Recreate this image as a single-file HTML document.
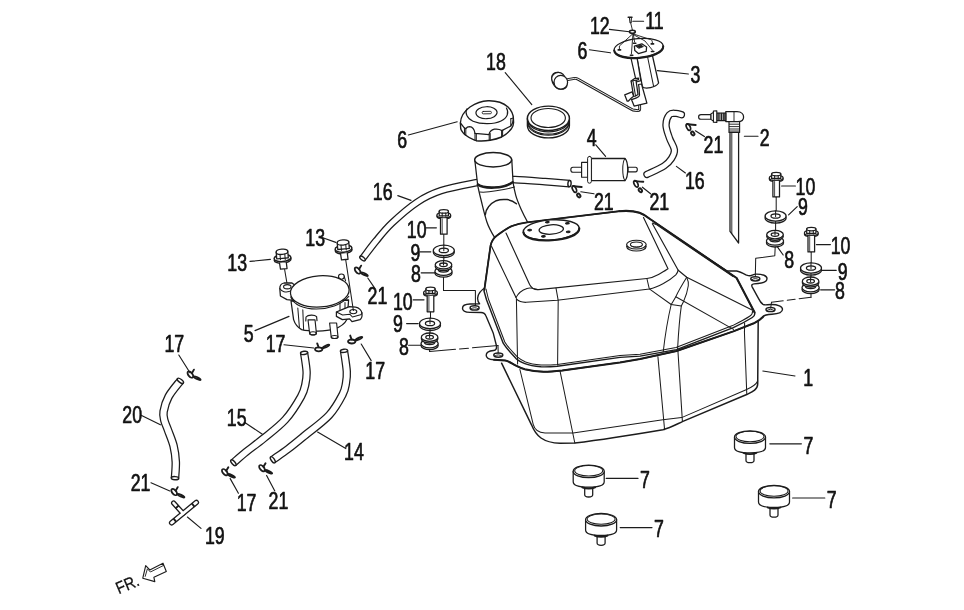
<!DOCTYPE html>
<html><head><meta charset="utf-8"><title>Fuel tank</title>
<style>
html,body{margin:0;padding:0;background:#fff;}
body{width:964px;height:610px;overflow:hidden;}
svg{display:block;will-change:transform;}
text{font-family:"Liberation Sans",sans-serif;fill:#111;stroke:#111;stroke-width:0.7px;stroke-linejoin:round;}
</style></head><body>
<svg width="964" height="610" viewBox="0 0 964 610" stroke-linejoin="round" stroke-linecap="round">
<rect width="964" height="610" fill="#fff"/>
<path d="M362.5 258.5 C364.8 255.6 371.1 246.9 376.0 241.0 C380.9 235.1 385.2 229.4 392.0 223.0 C398.8 216.6 408.8 207.7 417.0 202.3 C425.2 196.9 431.2 193.9 441.0 190.7 C450.8 187.4 467.2 184.5 476.0 182.8 C484.8 181.1 487.5 181.1 494.0 180.6 C500.5 180.1 506.5 179.4 515.0 179.6 C523.5 179.8 535.9 180.9 545.0 181.6 C554.1 182.3 565.4 183.3 569.5 183.6" fill="none" stroke="#1c1c1c" stroke-width="7.60" stroke-linecap="butt"/>
<path d="M362.5 258.5 C364.8 255.6 371.1 246.9 376.0 241.0 C380.9 235.1 385.2 229.4 392.0 223.0 C398.8 216.6 408.8 207.7 417.0 202.3 C425.2 196.9 431.2 193.9 441.0 190.7 C450.8 187.4 467.2 184.5 476.0 182.8 C484.8 181.1 487.5 181.1 494.0 180.6 C500.5 180.1 506.5 179.4 515.0 179.6 C523.5 179.8 535.9 180.9 545.0 181.6 C554.1 182.3 565.4 183.3 569.5 183.6" fill="none" stroke="#fff" stroke-width="5.10" stroke-linecap="butt"/>
<ellipse cx="362.5" cy="258.5" rx="1.6" ry="3.2" fill="#fff" stroke="#1c1c1c" stroke-width="1.44" transform="rotate(-52.4 362.5 258.5)"/>
<ellipse cx="569.5" cy="183.6" rx="1.6" ry="3.2" fill="#fff" stroke="#1c1c1c" stroke-width="1.44" transform="rotate(-175.3 569.5 183.6)"/>
<path d="M477.5 184.3 C479 192 480.6 198 482.2 204.6 C483.6 210.4 485 216 486.8 221.7 C488.6 227 491 231.6 494.6 237.4 L530 226 C529 224.6 528.2 223.2 527.4 221.7 C525 217.4 523 213.4 521.1 209.2 C519 204.6 517 200 515.7 195.2 C514.6 191 513.6 186.4 513 182 Z" fill="#fff" stroke="#1c1c1c" stroke-width="1.26" />
<path d="M485.3 214.7 C485.6 211.6 486.6 209 488.4 206.9 C490.4 204.4 493 202.2 496.2 200.7 C499.6 199.4 503.4 199.2 507.1 199.6 C510.6 200.2 513.8 201.6 516.4 203.8" fill="none" stroke="#1c1c1c" stroke-width="1.49" />
<path d="M479.8 192.1 C485 192.6 491 191.8 496.2 190.8 C502.4 189.8 508.6 188.8 514.6 187.0" fill="none" stroke="#1c1c1c" stroke-width="1.03" />
<path d="M474.8 160 L477.5 183.5 C484 188.6 504 188.2 513 181.2 L511.8 160 Z" fill="#fff" stroke="#1c1c1c" stroke-width="1.26" />
<path d="M477.6 184.4 C484 189.6 504 189.2 513 182.2" fill="none" stroke="#1c1c1c" stroke-width="1.90" />
<ellipse cx="493.2" cy="159.8" rx="18.5" ry="7.2" fill="#fff" stroke="#1c1c1c" stroke-width="1.49"/>
<path d="M486.0 288.0 L490.5 246.0 L497.0 235.5 L512.0 226.0 L527.0 222.4 L619.5 211.2 L639.5 212.8 L650.0 219.0 L737.0 277.5 L754.5 312.0 L758.7 320.0 L757.7 386.5 L746.1 394.8 L682.9 421.4 L662.9 429.7 L574.8 443.0 L556.5 443.0 L538.2 436.4 L531.5 424.8 L501.6 363.2 L496.0 346.0 L485.0 313.0Z" fill="#fff" stroke="none"/>
<path d="M501.6 363.2 L531.5 424.8 C534 431 536 434.5 541 438 C546 441.5 552 443 560 443.2 L574.8 443 C604 439.4 634 434.6 662.9 429.7 C670 428 676 424.6 682.9 421.4 L746.1 394.8 C752 392 757.5 390 757.7 384 L758.2 321" fill="none" stroke="#1c1c1c" stroke-width="1.49" />
<path d="M519.9 369.5 L533.2 424.4 C534.5 429.5 538 432.6 545 433 L573.1 433.1 L662.9 419.8 L681.6 417.6 L746.1 389.8 C751 387.6 756 385 757.7 381" fill="none" stroke="#1c1c1c" stroke-width="1.03" />
<path d="M559.8 369.9 L574.8 443" fill="none" stroke="#1c1c1c" stroke-width="1.03" />
<path d="M657.9 356.6 L664.6 429.7" fill="none" stroke="#1c1c1c" stroke-width="1.03" />
<path d="M677.9 350.5 L682.4 421.4" fill="none" stroke="#1c1c1c" stroke-width="1.03" />
<path d="M744.4 331.6 L746.8 394.6" fill="none" stroke="#1c1c1c" stroke-width="1.03" />
<path d="M487 286.5 C481 290 477.5 294 477.6 298.5 C477.7 301 478.6 303 479.6 303.8 L470 304 C464.5 304.2 462.5 306.2 462.5 308.2 C462.5 310.4 465 312.3 470 312.4 L481 312.5 C484 312.6 485 313.4 486 316 L493.3 333.3 L496.4 345.5 C496.8 348.6 496 350.3 493.6 350.5 C488.6 350.9 486.2 353 486.2 355.2 C486.2 357.6 489 359.6 494 359.8 L505 360.4 C508.5 360.8 512 363.6 516 365.6 C519 367.2 522 368.4 524.9 369.3 C531 370.8 537 371.6 543.6 371.8 C550 371.8 556 371.2 562.3 370.5 L620 362.4 L640 359.1 L676.5 351 L733.3 331.4 L753.8 323.3 C758.6 321 761.6 318.6 763.4 316.4 C764.4 314.8 766 314.5 772 314.2 C778.4 313.9 782.5 312 782.5 309.3 C782.5 306.4 778 304.4 771 304.5 C767 304.6 764.8 305.6 763 304.4 C761.4 303.2 760 301.6 758.6 298.6 L752 286.6 C751.4 285 752 284.2 754 283.9 L758 283.5 C763.6 283.1 767 281 767 278.6 C767 275.8 762.6 274 756 274.1 C753.6 274.2 752 275.4 750.6 275.7 C748.6 276 747.4 275.4 745.9 274.9 C742.6 273 739.6 271.4 736.6 271 L727.2 271 L654.9 223.7" fill="#fff" stroke="#1c1c1c" stroke-width="1.38" />
<ellipse cx="474.6" cy="307.9" rx="4.5" ry="2.1" fill="none" stroke="#1c1c1c" stroke-width="1.49"/>
<path d="M471.2 308.8 C473.1 307.3 476.1 307.3 478.0 308.8" fill="none" stroke="#1c1c1c" stroke-width="0.92" />
<ellipse cx="498.3" cy="355.1" rx="4.5" ry="2.1" fill="none" stroke="#1c1c1c" stroke-width="1.49"/>
<path d="M494.9 356.0 C496.8 354.5 499.8 354.5 501.7 356.0" fill="none" stroke="#1c1c1c" stroke-width="0.92" />
<ellipse cx="755.3" cy="278.8" rx="4.5" ry="2.1" fill="none" stroke="#1c1c1c" stroke-width="1.49"/>
<path d="M751.9 279.7 C753.8 278.2 756.8 278.2 758.7 279.7" fill="none" stroke="#1c1c1c" stroke-width="0.92" />
<ellipse cx="770.5" cy="309.5" rx="4.5" ry="2.1" fill="none" stroke="#1c1c1c" stroke-width="1.49"/>
<path d="M767.1 310.4 C769.0 308.9 772.0 308.9 773.9 310.4" fill="none" stroke="#1c1c1c" stroke-width="0.92" />
<path d="M484 291 L490.5 246 C491.5 240.5 494 237.6 497 235.5 C503 231 507 228 512 226 C517 224 522 223 527 222.4 L619.5 211.2 C628 210.4 634 211 639.5 212.8 C644 214.4 647 216.6 650 219 L736.6 278 L754.5 312.3 C755.4 314.6 754 316.4 752.3 317.5 C746 321.4 740 324.6 733.3 327.7 L676.5 349.6 L640 356.1 L620 357.4 L557.3 366.2 C551 366.8 546 367 541.1 366.8 C535 366.4 529 365.4 524.9 363.7 C521 362 518 360.4 516.2 358.7 C510 352 506 348 503.2 343.2 L486.6 300 Z" fill="#fff" stroke="#1c1c1c" stroke-width="1.44" />
<path d="M619.5 211.2 C628 210.4 634 211 639.5 212.8 C644 214.4 647 216.6 650 219 L736.6 278 L754.5 312.3" fill="none" stroke="#1c1c1c" stroke-width="2.10" />
<path d="M484.4 290 L490.5 246 C491.5 240.5 494 237.6 497 235.5 C503 231 507 228 512 226 C517 224 522 223 527 222.4 L619.5 211.2" fill="none" stroke="#1c1c1c" stroke-width="1.80" />
<path d="M652.6 223 L656 224.4 L733 276.6" fill="none" stroke="#1c1c1c" stroke-width="1.03" />
<path d="M752.6 311 C752.6 313.4 751.6 315 750 316 C745 319.4 739 322.4 732.6 325.6 L676 347.6 L640 354.2 L620 355.6 L557.3 364.4 C551 365 546 365.2 541.1 365 C535 364.6 529.6 363.6 525.6 362 C522 360.4 519.4 358.8 517.6 357.2 C512 351 507.6 347 504.8 342 L488.4 299 L486 289" fill="none" stroke="#1c1c1c" stroke-width="1.03" />
<path d="M494 359.8 L505 360.4 C508.5 360.8 512 363.6 516 365.6 C519 367.2 522 368.4 524.9 369.3 C531 370.8 537 371.6 543.6 371.8 C550 371.8 556 371.2 562.3 370.5 L620 362.4 L640 359.1 L676.5 351 L733.3 331.4 L753.8 323.3 C758.6 321 761.6 318.6 763.4 316.4" fill="none" stroke="#1c1c1c" stroke-width="2.00" />
<path d="M491.6 246.5 L516 297.6" fill="none" stroke="#1c1c1c" stroke-width="1.15" />
<path d="M516.4 298.6 L517.6 364" fill="none" stroke="#1c1c1c" stroke-width="1.03" />
<path d="M506 233 L529.6 284.4 C531.4 288 534 289.9 538.5 289.6 L646.9 278.5 C651 278 655 276.3 658.5 274.4 C662 272.4 665.4 270.6 668 268.7 L643.5 217.4" fill="none" stroke="#1c1c1c" stroke-width="1.15" />
<path d="M516 297.6 C518 293.4 522 290 527 288.4 C531 287.4 534 288.4 537.6 289.6" fill="none" stroke="#1c1c1c" stroke-width="1.03" />
<path d="M516.6 299.2 C519 301.6 522 302.4 526 302.3 L557.2 300.2 L649.4 289 C654 288 659 285.8 663.4 283.5 C669 280.4 674 276.6 675.8 274.9 C677 273.6 677.8 272 678.2 270.2 L652.4 223.7" fill="none" stroke="#1c1c1c" stroke-width="1.15" />
<path d="M556 288.2 L558.2 300.4 L557.6 365" fill="none" stroke="#1c1c1c" stroke-width="1.03" />
<path d="M646.9 278.5 L649.3 288.9 L671.2 304.5" fill="none" stroke="#1c1c1c" stroke-width="1.03" />
<path d="M678.2 270.2 L686.7 277.3 L752.1 310" fill="none" stroke="#1c1c1c" stroke-width="1.15" />
<path d="M686.7 277.3 C682 285 678 292 675.8 296.7 C674 300 672.4 302.4 671.2 304.5 C668 318 665 336 663.2 352" fill="none" stroke="#1c1c1c" stroke-width="1.03" />
<path d="M686.7 277.3 C688.4 281 688.8 283 688.3 285.8 C687.4 292 685.6 297 683.6 301.4 L681.3 306.1 C679.6 318 678.4 334 677.6 348.6" fill="none" stroke="#1c1c1c" stroke-width="1.03" />
<path d="M671.2 304.5 L681.3 306.1" fill="none" stroke="#1c1c1c" stroke-width="1.03" />
<path d="M675.8 296.7 L733.5 329.4" fill="none" stroke="#1c1c1c" stroke-width="1.03" />
<path d="M744.6 323 L744.5 331.5" fill="none" stroke="#1c1c1c" stroke-width="1.03" />
<g transform="rotate(-4 551.3 229.9)">
<ellipse cx="551.3" cy="229.9" rx="28.0" ry="10.0" fill="#fff" stroke="#1c1c1c" stroke-width="1.38"/>
<path d="M523.3 230.4 C524 243.6 578.6 243.6 579.3 230.4" fill="none" stroke="#1c1c1c" stroke-width="2.20" />
<ellipse cx="551.3" cy="229.5" rx="12.2" ry="4.7" fill="none" stroke="#1c1c1c" stroke-width="1.26"/>
</g>
<ellipse cx="529.6" cy="230.1" rx="1.9" ry="0.8" fill="#1c1c1c" stroke="#1c1c1c" stroke-width="1.03" transform="rotate(-4.0 529.6 230.1)"/>
<ellipse cx="547.3" cy="222.2" rx="1.9" ry="0.8" fill="#1c1c1c" stroke="#1c1c1c" stroke-width="1.03" transform="rotate(-4.0 547.3 222.2)"/>
<ellipse cx="567.4" cy="223.3" rx="1.9" ry="0.8" fill="#1c1c1c" stroke="#1c1c1c" stroke-width="1.03" transform="rotate(-4.0 567.4 223.3)"/>
<ellipse cx="568.2" cy="231.9" rx="1.9" ry="0.8" fill="#1c1c1c" stroke="#1c1c1c" stroke-width="1.03" transform="rotate(-4.0 568.2 231.9)"/>
<ellipse cx="543.4" cy="236.4" rx="1.9" ry="0.8" fill="#1c1c1c" stroke="#1c1c1c" stroke-width="1.03" transform="rotate(-4.0 543.4 236.4)"/>
<ellipse cx="636.4" cy="246.6" rx="9.8" ry="4.4" fill="#fff" stroke="#1c1c1c" stroke-width="1.15"/>
<ellipse cx="636.4" cy="244.6" rx="9.8" ry="4.4" fill="#fff" stroke="#1c1c1c" stroke-width="1.15"/>
<ellipse cx="636.4" cy="244.6" rx="6.0" ry="2.6" fill="none" stroke="#1c1c1c" stroke-width="1.03"/>
<path d="M630.6 245.4 C632 247.6 640.8 247.6 642.2 245.4" fill="none" stroke="#1c1c1c" stroke-width="0.92" />
<ellipse cx="443.8" cy="216.2" rx="6.9" ry="2.6" fill="#fff" stroke="#1c1c1c" stroke-width="1.26"/>
<ellipse cx="443.8" cy="215.2" rx="6.9" ry="2.6" fill="#fff" stroke="#1c1c1c" stroke-width="1.26"/>
<path d="M439.2 211.2 L439.2 215.8 L448.4 215.8 L448.4 211.2 Z" fill="#fff" stroke="#1c1c1c" stroke-width="1.26" />
<ellipse cx="443.8" cy="211.4" rx="4.6" ry="1.8" fill="#fff" stroke="#1c1c1c" stroke-width="1.26"/>
<line x1="442.2" y1="213.0" x2="442.2" y2="216.2" stroke="#1c1c1c" stroke-width="1.03" />
<line x1="445.8" y1="213.0" x2="445.8" y2="216.2" stroke="#1c1c1c" stroke-width="1.03" />
<path d="M440.5 218.2 L440.5 234.2 L447.1 234.2 L447.1 218.2" fill="#fff" stroke="#1c1c1c" stroke-width="1.26" />
<line x1="442.2" y1="218.8" x2="442.2" y2="233.8" stroke="#1c1c1c" stroke-width="0.80" />
<line x1="443.8" y1="234.4" x2="443.8" y2="246.5" stroke="#1c1c1c" stroke-width="1.03" />
<ellipse cx="443.8" cy="252.3" rx="10.5" ry="5.2" fill="#fff" stroke="#1c1c1c" stroke-width="1.26"/>
<ellipse cx="443.8" cy="250.4" rx="10.5" ry="5.2" fill="#fff" stroke="#1c1c1c" stroke-width="1.26"/>
<ellipse cx="443.8" cy="250.4" rx="4.6" ry="2.2" fill="#fff" stroke="#1c1c1c" stroke-width="1.26"/>
<line x1="443.8" y1="245.2" x2="443.8" y2="250.8" stroke="#1c1c1c" stroke-width="1.03" />
<line x1="443.8" y1="255.8" x2="443.8" y2="262.6" stroke="#1c1c1c" stroke-width="1.03" />
<ellipse cx="443.5" cy="273.0" rx="8.6" ry="4.2" fill="#fff" stroke="#1c1c1c" stroke-width="1.26"/>
<ellipse cx="443.5" cy="271.2" rx="8.6" ry="4.2" fill="#fff" stroke="#1c1c1c" stroke-width="1.26"/>
<ellipse cx="443.5" cy="269.8" rx="5.2" ry="2.3" fill="#fff" stroke="#1c1c1c" stroke-width="1.26"/>
<ellipse cx="443.5" cy="266.4" rx="8.3" ry="4.2" fill="#fff" stroke="#1c1c1c" stroke-width="1.26"/>
<ellipse cx="443.5" cy="264.8" rx="8.3" ry="4.2" fill="#fff" stroke="#1c1c1c" stroke-width="1.26"/>
<ellipse cx="443.5" cy="264.8" rx="3.8" ry="1.8" fill="#fff" stroke="#1c1c1c" stroke-width="1.26"/>
<line x1="443.5" y1="260.6" x2="443.5" y2="265.1" stroke="#1c1c1c" stroke-width="1.03" />
<path d="M443.5 277.2 L443.5 290.6 L475.4 290.6 L475.4 305.6" fill="none" stroke="#1c1c1c" stroke-width="1.03" />
<ellipse cx="430.5" cy="293.8" rx="6.9" ry="2.6" fill="#fff" stroke="#1c1c1c" stroke-width="1.26"/>
<ellipse cx="430.5" cy="292.8" rx="6.9" ry="2.6" fill="#fff" stroke="#1c1c1c" stroke-width="1.26"/>
<path d="M425.9 288.8 L425.9 293.4 L435.1 293.4 L435.1 288.8 Z" fill="#fff" stroke="#1c1c1c" stroke-width="1.26" />
<ellipse cx="430.5" cy="289.0" rx="4.6" ry="1.8" fill="#fff" stroke="#1c1c1c" stroke-width="1.26"/>
<line x1="428.9" y1="290.6" x2="428.9" y2="293.8" stroke="#1c1c1c" stroke-width="1.03" />
<line x1="432.5" y1="290.6" x2="432.5" y2="293.8" stroke="#1c1c1c" stroke-width="1.03" />
<path d="M427.2 295.8 L427.2 311.8 L433.8 311.8 L433.8 295.8" fill="#fff" stroke="#1c1c1c" stroke-width="1.26" />
<line x1="428.9" y1="296.4" x2="428.9" y2="311.4" stroke="#1c1c1c" stroke-width="0.80" />
<line x1="430.5" y1="312.0" x2="430.5" y2="319.6" stroke="#1c1c1c" stroke-width="1.03" />
<ellipse cx="430.0" cy="325.3" rx="10.5" ry="5.2" fill="#fff" stroke="#1c1c1c" stroke-width="1.26"/>
<ellipse cx="430.0" cy="323.4" rx="10.5" ry="5.2" fill="#fff" stroke="#1c1c1c" stroke-width="1.26"/>
<ellipse cx="430.0" cy="323.4" rx="4.6" ry="2.2" fill="#fff" stroke="#1c1c1c" stroke-width="1.26"/>
<line x1="430.0" y1="318.2" x2="430.0" y2="323.8" stroke="#1c1c1c" stroke-width="1.03" />
<line x1="430.0" y1="329.0" x2="430.0" y2="335.0" stroke="#1c1c1c" stroke-width="1.03" />
<ellipse cx="429.6" cy="345.4" rx="8.6" ry="4.2" fill="#fff" stroke="#1c1c1c" stroke-width="1.26"/>
<ellipse cx="429.6" cy="343.6" rx="8.6" ry="4.2" fill="#fff" stroke="#1c1c1c" stroke-width="1.26"/>
<ellipse cx="429.6" cy="342.2" rx="5.2" ry="2.3" fill="#fff" stroke="#1c1c1c" stroke-width="1.26"/>
<ellipse cx="429.6" cy="338.8" rx="8.3" ry="4.2" fill="#fff" stroke="#1c1c1c" stroke-width="1.26"/>
<ellipse cx="429.6" cy="337.2" rx="8.3" ry="4.2" fill="#fff" stroke="#1c1c1c" stroke-width="1.26"/>
<ellipse cx="429.6" cy="337.2" rx="3.8" ry="1.8" fill="#fff" stroke="#1c1c1c" stroke-width="1.26"/>
<line x1="429.6" y1="333.0" x2="429.6" y2="337.5" stroke="#1c1c1c" stroke-width="1.03" />
<path d="M429.6 349.6 L429.6 351.6" fill="none" stroke="#1c1c1c" stroke-width="1.03" />
<path d="M429.6 351.6 L498 345.6" fill="none" stroke="#1c1c1c" stroke-width="1.03" stroke-dasharray="26 4 9 4"/>
<path d="M498 345.6 L498.2 353" fill="none" stroke="#1c1c1c" stroke-width="1.03" />
<ellipse cx="776.2" cy="178.9" rx="6.9" ry="2.6" fill="#fff" stroke="#1c1c1c" stroke-width="1.26"/>
<ellipse cx="776.2" cy="177.9" rx="6.9" ry="2.6" fill="#fff" stroke="#1c1c1c" stroke-width="1.26"/>
<path d="M771.6 173.9 L771.6 178.5 L780.8 178.5 L780.8 173.9 Z" fill="#fff" stroke="#1c1c1c" stroke-width="1.26" />
<ellipse cx="776.2" cy="174.1" rx="4.6" ry="1.8" fill="#fff" stroke="#1c1c1c" stroke-width="1.26"/>
<line x1="774.6" y1="175.7" x2="774.6" y2="178.9" stroke="#1c1c1c" stroke-width="1.03" />
<line x1="778.2" y1="175.7" x2="778.2" y2="178.9" stroke="#1c1c1c" stroke-width="1.03" />
<path d="M772.9 180.9 L772.9 196.9 L779.5 196.9 L779.5 180.9" fill="#fff" stroke="#1c1c1c" stroke-width="1.26" />
<line x1="774.6" y1="181.5" x2="774.6" y2="196.5" stroke="#1c1c1c" stroke-width="0.80" />
<line x1="776.2" y1="197.2" x2="776.2" y2="212.4" stroke="#1c1c1c" stroke-width="1.03" />
<ellipse cx="775.6" cy="217.9" rx="10.5" ry="5.2" fill="#fff" stroke="#1c1c1c" stroke-width="1.26"/>
<ellipse cx="775.6" cy="216.0" rx="10.5" ry="5.2" fill="#fff" stroke="#1c1c1c" stroke-width="1.26"/>
<ellipse cx="775.6" cy="216.0" rx="4.6" ry="2.2" fill="#fff" stroke="#1c1c1c" stroke-width="1.26"/>
<line x1="775.6" y1="210.8" x2="775.6" y2="216.4" stroke="#1c1c1c" stroke-width="1.03" />
<line x1="775.6" y1="221.6" x2="775.6" y2="232.6" stroke="#1c1c1c" stroke-width="1.03" />
<ellipse cx="775.0" cy="242.8" rx="8.6" ry="4.2" fill="#fff" stroke="#1c1c1c" stroke-width="1.26"/>
<ellipse cx="775.0" cy="241.0" rx="8.6" ry="4.2" fill="#fff" stroke="#1c1c1c" stroke-width="1.26"/>
<ellipse cx="775.0" cy="239.6" rx="5.2" ry="2.3" fill="#fff" stroke="#1c1c1c" stroke-width="1.26"/>
<ellipse cx="775.0" cy="236.2" rx="8.3" ry="4.2" fill="#fff" stroke="#1c1c1c" stroke-width="1.26"/>
<ellipse cx="775.0" cy="234.6" rx="8.3" ry="4.2" fill="#fff" stroke="#1c1c1c" stroke-width="1.26"/>
<ellipse cx="775.0" cy="234.6" rx="3.8" ry="1.8" fill="#fff" stroke="#1c1c1c" stroke-width="1.26"/>
<line x1="775.0" y1="230.4" x2="775.0" y2="234.9" stroke="#1c1c1c" stroke-width="1.03" />
<path d="M775.2 247 L774.8 255.8 L755.7 258.2 L755.3 276.6" fill="none" stroke="#1c1c1c" stroke-width="1.03" />
<ellipse cx="811.3" cy="233.9" rx="6.9" ry="2.6" fill="#fff" stroke="#1c1c1c" stroke-width="1.26"/>
<ellipse cx="811.3" cy="232.9" rx="6.9" ry="2.6" fill="#fff" stroke="#1c1c1c" stroke-width="1.26"/>
<path d="M806.7 228.9 L806.7 233.5 L815.9 233.5 L815.9 228.9 Z" fill="#fff" stroke="#1c1c1c" stroke-width="1.26" />
<ellipse cx="811.3" cy="229.1" rx="4.6" ry="1.8" fill="#fff" stroke="#1c1c1c" stroke-width="1.26"/>
<line x1="809.7" y1="230.7" x2="809.7" y2="233.9" stroke="#1c1c1c" stroke-width="1.03" />
<line x1="813.3" y1="230.7" x2="813.3" y2="233.9" stroke="#1c1c1c" stroke-width="1.03" />
<path d="M808.0 235.9 L808.0 251.9 L814.6 251.9 L814.6 235.9" fill="#fff" stroke="#1c1c1c" stroke-width="1.26" />
<line x1="809.7" y1="236.5" x2="809.7" y2="251.5" stroke="#1c1c1c" stroke-width="0.80" />
<line x1="811.2" y1="252.2" x2="811.2" y2="264.4" stroke="#1c1c1c" stroke-width="1.03" />
<ellipse cx="811.0" cy="269.9" rx="10.5" ry="5.2" fill="#fff" stroke="#1c1c1c" stroke-width="1.26"/>
<ellipse cx="811.0" cy="268.0" rx="10.5" ry="5.2" fill="#fff" stroke="#1c1c1c" stroke-width="1.26"/>
<ellipse cx="811.0" cy="268.0" rx="4.6" ry="2.2" fill="#fff" stroke="#1c1c1c" stroke-width="1.26"/>
<line x1="811.0" y1="262.8" x2="811.0" y2="268.4" stroke="#1c1c1c" stroke-width="1.03" />
<line x1="811.0" y1="273.4" x2="811.0" y2="279.4" stroke="#1c1c1c" stroke-width="1.03" />
<ellipse cx="810.6" cy="289.4" rx="8.6" ry="4.2" fill="#fff" stroke="#1c1c1c" stroke-width="1.26"/>
<ellipse cx="810.6" cy="287.6" rx="8.6" ry="4.2" fill="#fff" stroke="#1c1c1c" stroke-width="1.26"/>
<ellipse cx="810.6" cy="286.2" rx="5.2" ry="2.3" fill="#fff" stroke="#1c1c1c" stroke-width="1.26"/>
<ellipse cx="810.6" cy="282.8" rx="8.3" ry="4.2" fill="#fff" stroke="#1c1c1c" stroke-width="1.26"/>
<ellipse cx="810.6" cy="281.2" rx="8.3" ry="4.2" fill="#fff" stroke="#1c1c1c" stroke-width="1.26"/>
<ellipse cx="810.6" cy="281.2" rx="3.8" ry="1.8" fill="#fff" stroke="#1c1c1c" stroke-width="1.26"/>
<line x1="810.6" y1="277.0" x2="810.6" y2="281.5" stroke="#1c1c1c" stroke-width="1.03" />
<path d="M811 293.6 L811 297.2" fill="none" stroke="#1c1c1c" stroke-width="1.03" />
<path d="M811 297.2 L771.5 302.2" fill="none" stroke="#1c1c1c" stroke-width="1.03" stroke-dasharray="12 4 8 4"/>
<path d="M771.5 302.2 L770.7 308" fill="none" stroke="#1c1c1c" stroke-width="1.03" />
<path d="M584.7 486.4 L584.7 494.8 C584.7 496.6 586.3 497.0 588.7 497.0 C591.1 497.0 592.7 496.6 592.7 494.8 L592.7 486.4" fill="#fff" stroke="#1c1c1c" stroke-width="1.26" />
<path d="M573.2 471.4 L573.2 481.8 C573.2 485.4 579.7 487.2 588.7 487.2 C597.7 487.2 604.2 485.4 604.2 481.8 L604.2 471.4 Z" fill="#fff" stroke="#1c1c1c" stroke-width="1.26" />
<path d="M582.3 487.3 C585.7 488.8 591.7 488.8 595.1 487.3" fill="none" stroke="#1c1c1c" stroke-width="1.90" />
<ellipse cx="588.7" cy="471.4" rx="15.5" ry="6.3" fill="#fff" stroke="#1c1c1c" stroke-width="1.26"/>
<ellipse cx="588.7" cy="470.8" rx="14.0" ry="5.2" fill="none" stroke="#1c1c1c" stroke-width="1.03"/>
<path d="M597.1 534.7 L597.1 543.1 C597.1 544.9 598.7 545.3 601.1 545.3 C603.5 545.3 605.1 544.9 605.1 543.1 L605.1 534.7" fill="#fff" stroke="#1c1c1c" stroke-width="1.26" />
<path d="M585.6 519.7 L585.6 530.1 C585.6 533.7 592.1 535.5 601.1 535.5 C610.1 535.5 616.6 533.7 616.6 530.1 L616.6 519.7 Z" fill="#fff" stroke="#1c1c1c" stroke-width="1.26" />
<path d="M594.7 535.6 C598.1 537.1 604.1 537.1 607.5 535.6" fill="none" stroke="#1c1c1c" stroke-width="1.90" />
<ellipse cx="601.1" cy="519.7" rx="15.5" ry="6.3" fill="#fff" stroke="#1c1c1c" stroke-width="1.26"/>
<ellipse cx="601.1" cy="519.1" rx="14.0" ry="5.2" fill="none" stroke="#1c1c1c" stroke-width="1.03"/>
<path d="M746.0 452.1 L746.0 460.5 C746.0 462.3 747.6 462.7 750.0 462.7 C752.4 462.7 754.0 462.3 754.0 460.5 L754.0 452.1" fill="#fff" stroke="#1c1c1c" stroke-width="1.26" />
<path d="M734.5 437.1 L734.5 447.5 C734.5 451.1 741.0 452.9 750.0 452.9 C759.0 452.9 765.5 451.1 765.5 447.5 L765.5 437.1 Z" fill="#fff" stroke="#1c1c1c" stroke-width="1.26" />
<path d="M743.6 453.0 C747.0 454.5 753.0 454.5 756.4 453.0" fill="none" stroke="#1c1c1c" stroke-width="1.90" />
<ellipse cx="750.0" cy="437.1" rx="15.5" ry="6.3" fill="#fff" stroke="#1c1c1c" stroke-width="1.26"/>
<ellipse cx="750.0" cy="436.5" rx="14.0" ry="5.2" fill="none" stroke="#1c1c1c" stroke-width="1.03"/>
<path d="M770.0 506.6 L770.0 515.0 C770.0 516.8 771.6 517.2 774.0 517.2 C776.4 517.2 778.0 516.8 778.0 515.0 L778.0 506.6" fill="#fff" stroke="#1c1c1c" stroke-width="1.26" />
<path d="M758.5 491.6 L758.5 502.0 C758.5 505.6 765.0 507.4 774.0 507.4 C783.0 507.4 789.5 505.6 789.5 502.0 L789.5 491.6 Z" fill="#fff" stroke="#1c1c1c" stroke-width="1.26" />
<path d="M767.6 507.5 C771.0 509.0 777.0 509.0 780.4 507.5" fill="none" stroke="#1c1c1c" stroke-width="1.90" />
<ellipse cx="774.0" cy="491.6" rx="15.5" ry="6.3" fill="#fff" stroke="#1c1c1c" stroke-width="1.26"/>
<ellipse cx="774.0" cy="491.0" rx="14.0" ry="5.2" fill="none" stroke="#1c1c1c" stroke-width="1.03"/>
<path d="M730 131.5 L730 231.4 L738.6 243 L738.6 131.5 Z" fill="#fff" stroke="#1c1c1c" stroke-width="1.26" />
<line x1="731.8" y1="132.0" x2="731.8" y2="233.6" stroke="#1c1c1c" stroke-width="0.92" />
<path d="M729 121.4 L729 132.4 L739.6 132.4 L739.6 121.4 Z" fill="#fff" stroke="#1c1c1c" stroke-width="1.15" />
<line x1="729.4" y1="124.2" x2="739.2" y2="124.2" stroke="#1c1c1c" stroke-width="0.92" />
<line x1="729.4" y1="126.6" x2="739.2" y2="126.6" stroke="#1c1c1c" stroke-width="0.92" />
<line x1="729.4" y1="129.0" x2="739.2" y2="129.0" stroke="#1c1c1c" stroke-width="0.92" />
<line x1="729.4" y1="131.0" x2="739.2" y2="131.0" stroke="#1c1c1c" stroke-width="0.92" />
<path d="M725.8 111.7 L737 111.7 C741.6 111.7 743.6 114.4 743.6 117 C743.6 119.8 741.4 121.6 738 121.6 L725.8 121.6 Z" fill="#fff" stroke="#1c1c1c" stroke-width="1.26" />
<line x1="734.0" y1="111.9" x2="734.0" y2="121.4" stroke="#1c1c1c" stroke-width="0.92" />
<path d="M716.8 113 L725.8 113 L725.8 120.6 L716.8 120.6 Z" fill="#fff" stroke="#1c1c1c" stroke-width="1.15" />
<line x1="718.2" y1="113.2" x2="718.2" y2="120.4" stroke="#1c1c1c" stroke-width="1.15" />
<line x1="719.9" y1="113.2" x2="719.9" y2="120.4" stroke="#1c1c1c" stroke-width="1.15" />
<line x1="721.6" y1="113.2" x2="721.6" y2="120.4" stroke="#1c1c1c" stroke-width="1.15" />
<line x1="723.3" y1="113.2" x2="723.3" y2="120.4" stroke="#1c1c1c" stroke-width="1.15" />
<line x1="724.8" y1="113.2" x2="724.8" y2="120.4" stroke="#1c1c1c" stroke-width="1.15" />
<path d="M713.4 111 L716.8 110.8 L716.8 122.4 L713.4 122.2 Z" fill="#fff" stroke="#1c1c1c" stroke-width="1.15" />
<path d="M710.8 114 L713.4 112.4 L713.4 121 L710.8 119.4 Z" fill="#fff" stroke="#1c1c1c" stroke-width="1.03" />
<path d="M710.8 114.6 L701 114.6 C699.2 114.6 698.6 115.6 698.6 116.9 C698.6 118.2 699.2 119.2 701 119.2 L710.8 119.2 Z" fill="#fff" stroke="#1c1c1c" stroke-width="1.15" />
<path d="M681.4 114.7 C680.5 114.5 678.0 113.4 676.0 113.4 C674.0 113.4 671.2 112.7 669.5 114.6 C667.8 116.5 666.0 121.0 666.0 124.9 C666.0 128.8 668.1 134.0 669.5 138.2 C670.9 142.3 674.1 146.4 674.4 149.8 C674.7 153.2 673.2 155.8 671.5 158.5 C669.8 161.2 668.1 163.3 664.0 166.0 C659.9 168.7 649.8 173.0 647.0 174.4" fill="none" stroke="#1c1c1c" stroke-width="7.40" stroke-linecap="round"/>
<path d="M681.4 114.7 C680.5 114.5 678.0 113.4 676.0 113.4 C674.0 113.4 671.2 112.7 669.5 114.6 C667.8 116.5 666.0 121.0 666.0 124.9 C666.0 128.8 668.1 134.0 669.5 138.2 C670.9 142.3 674.1 146.4 674.4 149.8 C674.7 153.2 673.2 155.8 671.5 158.5 C669.8 161.2 668.1 163.3 664.0 166.0 C659.9 168.7 649.8 173.0 647.0 174.4" fill="none" stroke="#fff" stroke-width="4.90" stroke-linecap="round"/>
<path d="M581.6 167.2 L573 167.2 C571.4 167.2 570.8 168.4 570.8 169.7 C570.8 171 571.4 172.2 573 172.2 L581.6 172.2 Z" fill="#fff" stroke="#1c1c1c" stroke-width="1.15" />
<path d="M581.6 162.4 L588.2 162.4 L588.2 177.2 L581.6 177.2 Z" fill="#fff" stroke="#1c1c1c" stroke-width="1.15" />
<path d="M628 167.2 L635.6 167.2 C636.8 167.2 637.3 168.3 637.3 169.5 C637.3 170.7 636.8 171.8 635.6 171.8 L628 171.8 Z" fill="#fff" stroke="#1c1c1c" stroke-width="1.15" />
<path d="M591.4 158.5 L625 158.5 C628.6 162 628.6 177 625 180.6 L591.4 180.6 Z" fill="#fff" stroke="#1c1c1c" stroke-width="1.26" />
<path d="M625 158.5 C622 162 622 177 625 180.6" fill="none" stroke="#1c1c1c" stroke-width="1.03" />
<rect x="587.6" y="156.4" width="3.8" height="26.8" rx="1.9" fill="#fff" stroke="#1c1c1c" stroke-width="1.0"/>
<path d="M460.4 123 C460.6 117 464 111.4 470 107 C476 103 482 101 488 100.8 C495 100.6 503 102.6 508 107 C511.6 110.4 513.4 114.6 513.4 119 L513.6 122.4 C513.4 125.6 512.6 127.4 511.4 128.8 C509 131.8 506 134.4 502.5 136.5 L501.6 137 C498 138.6 494 139.6 490.1 140.2 C486 140.9 480 141.1 476.3 140.7 L474 139.8 C471 138.6 468 137 465.8 135.2 L464.9 134.7 C462.6 132.4 461 130.6 460.7 128.7 Z" fill="#fff" stroke="#1c1c1c" stroke-width="1.38" />
<path d="M460.4 123 L463.9 127.4 L465.8 128.7 C466.6 127.4 468 126.6 469.6 126.6 C472.4 126.8 474.4 129.6 475 133.3 L488.9 134.6 C489.6 131.6 491.6 129.8 494.4 129.2 C497.4 128.8 500 129.4 501.8 130.6 L510.8 126 C512.4 124 513.2 121.6 513.4 119" fill="none" stroke="#1c1c1c" stroke-width="1.26" />
<line x1="464.4" y1="127.8" x2="464.6" y2="134.4" stroke="#1c1c1c" stroke-width="1.03" />
<line x1="465.8" y1="128.7" x2="465.8" y2="135.2" stroke="#1c1c1c" stroke-width="1.03" />
<line x1="475.0" y1="133.3" x2="475.0" y2="140.2" stroke="#1c1c1c" stroke-width="1.03" />
<line x1="476.3" y1="133.5" x2="476.3" y2="140.7" stroke="#1c1c1c" stroke-width="1.03" />
<line x1="489.2" y1="134.4" x2="489.2" y2="140.2" stroke="#1c1c1c" stroke-width="1.03" />
<line x1="490.2" y1="133.4" x2="490.2" y2="140.2" stroke="#1c1c1c" stroke-width="1.03" />
<line x1="501.6" y1="130.6" x2="501.6" y2="137.0" stroke="#1c1c1c" stroke-width="1.03" />
<line x1="502.6" y1="130.2" x2="502.6" y2="136.5" stroke="#1c1c1c" stroke-width="1.03" />
<line x1="510.8" y1="118.8" x2="510.8" y2="126.0" stroke="#1c1c1c" stroke-width="1.03" />
<path d="M510.8 118.8 L513.2 118" fill="none" stroke="#1c1c1c" stroke-width="1.03" />
<path d="M467 108.8 C464.6 113 467 118.6 473 121.2 C481 124.6 494 124.4 501 121 C507.6 117.8 509.2 112.4 506.4 108" fill="none" stroke="#1c1c1c" stroke-width="1.15" />
<ellipse cx="486.5" cy="112.7" rx="10.6" ry="6.0" fill="none" stroke="#1c1c1c" stroke-width="1.15" transform="rotate(-2.0 486.5 112.7)"/>
<rect x="482.2" y="111.4" width="9.2" height="2.4" rx="1.1" fill="none" stroke="#1c1c1c" stroke-width="0.9" transform="rotate(-1 486.8 112.6)"/>
<path d="M527.4 118.3 L527.4 125.7 A21 12.2 0 0 0 569.4 125.7 L569.4 118.3 Z" fill="#fff" stroke="#1c1c1c" stroke-width="1.38" />
<path d="M527.4 119.6 A21.0 12.2 0 0 0 569.4 119.6" fill="none" stroke="#1c1c1c" stroke-width="1.15" />
<path d="M528.2 122.4 A20.2 11.8 0 0 0 568.6 122.4" fill="none" stroke="#1c1c1c" stroke-width="1.15" />
<path d="M528.0 123.4 A20.4 11.9 0 0 0 568.8 123.4" fill="none" stroke="#1c1c1c" stroke-width="1.03" />
<ellipse cx="548.4" cy="118.3" rx="21.0" ry="12.2" fill="#fff" stroke="#1c1c1c" stroke-width="1.44"/>
<ellipse cx="548.2" cy="118.0" rx="17.2" ry="9.5" fill="none" stroke="#1c1c1c" stroke-width="1.15"/>
<path d="M567.6 79.6 L574.6 78.4 C576 78.2 577 78.6 578 79.2 L631.4 109.2 C632.6 109.9 633.6 110.2 634.8 110.3 L637.8 110.6 C639 110.6 639.7 110 639.7 108.8 L639.6 105" fill="none" stroke="#1c1c1c" stroke-width="2.9"/>
<path d="M567.6 79.6 L574.6 78.4 C576 78.2 577 78.6 578 79.2 L631.4 109.2 C632.6 109.9 633.6 110.2 634.8 110.3 L637.8 110.6 C639 110.6 639.7 110 639.7 108.8 L639.6 105" fill="none" stroke="#fff" stroke-width="0.9"/>
<path d="M551.6 78.2 C551.4 74 554.4 72.4 558 72.4 L561.6 74 L567 84 C567.4 88 564 89.2 560.4 89.2 C556 89.2 552 84 551.6 78.2 Z" fill="#fff" stroke="#1c1c1c" stroke-width="1.26" />
<ellipse cx="558.3" cy="78.6" rx="6.6" ry="6.2" fill="#fff" stroke="#1c1c1c" stroke-width="1.15"/>
<ellipse cx="560.8" cy="82.2" rx="6.8" ry="6.9" fill="#fff" stroke="#1c1c1c" stroke-width="1.26"/>
<path d="M636.7 56 L642.4 86.6 C645 89.6 656 87.4 658.6 83 L652.3 55 Z" fill="#fff" stroke="#1c1c1c" stroke-width="1.26" />
<line x1="647.6" y1="57.0" x2="653.6" y2="86.4" stroke="#1c1c1c" stroke-width="1.03" />
<path d="M630.5 56 L636.4 82 L640.8 80.6 L636.7 56 Z" fill="#fff" stroke="#1c1c1c" stroke-width="1.15" />
<path d="M638.5 84.5 L641.5 84 L646.9 103.2 L634.1 106.1 L631.6 99.7 L636.5 97.8 C638.4 97.2 639.4 96.4 639.5 95.3 L639 87.4 Z" fill="#fff" stroke="#1c1c1c" stroke-width="1.26" />
<path d="M631.1 81.1 L634.6 78.6 L638.5 78.1 L638.5 79.7 L636 80.3 L638 94.4 L635.6 96 L633.6 96.3 Z" fill="#fff" stroke="#1c1c1c" stroke-width="1.26" />
<path d="M633 81.4 L635.5 95.8 M631.1 81.1 L634.2 80.6 L636 80.3" fill="none" stroke="#1c1c1c" stroke-width="1.03" />
<path d="M624.7 94.8 L632.1 91.9 L633.6 96.3 L631.1 98.3 L628.2 101.2 L627.2 101.2 Z" fill="#fff" stroke="#1c1c1c" stroke-width="1.26" />
<g transform="rotate(-5 638.7 48.2)">
<ellipse cx="638.7" cy="48.0" rx="24.6" ry="9.3" fill="#fff" stroke="#1c1c1c" stroke-width="1.26"/>
<path d="M614.1 48.4 C614.6 61.2 662.8 61.2 663.3 48.4" fill="none" stroke="#1c1c1c" stroke-width="2.10" />
</g>
<path d="M634.4 46.2 L641.8 43.8 L646.6 47 L646.2 51.4 L638.4 53.6 L634.8 50.6 Z" fill="#fff" stroke="#1c1c1c" stroke-width="1.26" />
<path d="M636.6 46.4 L640.6 45 L643.4 46.6 L639.2 48.2 Z" fill="#1c1c1c" stroke="#1c1c1c" stroke-width="0.92" />
<line x1="618.2" y1="49.9" x2="620.6" y2="49.9" stroke="#1c1c1c" stroke-width="1.61" />
<line x1="630.4" y1="55.3" x2="632.8" y2="55.3" stroke="#1c1c1c" stroke-width="1.61" />
<line x1="633.4" y1="43.3" x2="635.8" y2="43.3" stroke="#1c1c1c" stroke-width="1.61" />
<line x1="651.2" y1="43.9" x2="653.6" y2="43.9" stroke="#1c1c1c" stroke-width="1.61" />
<line x1="651.4" y1="51.5" x2="653.8" y2="51.5" stroke="#1c1c1c" stroke-width="1.61" />
<path d="M633 33.6 L619.4 46 L619.4 49" fill="none" stroke="#1c1c1c" stroke-width="0.92" />
<path d="M633 33.6 L631.4 54" fill="none" stroke="#1c1c1c" stroke-width="0.92" />
<path d="M633.2 33.6 L634.6 42" fill="none" stroke="#1c1c1c" stroke-width="0.92" />
<path d="M633.4 34 L650.6 39.6 C652 40 652.4 41 652.4 43" fill="none" stroke="#1c1c1c" stroke-width="0.92" />
<path d="M633.4 34.6 L645 41 L652.6 50.4" fill="none" stroke="#1c1c1c" stroke-width="0.92" />
<ellipse cx="632.4" cy="31.8" rx="2.9" ry="1.6" fill="none" stroke="#1c1c1c" stroke-width="1.60"/>
<line x1="630.6" y1="22.6" x2="632.4" y2="30.0" stroke="#1c1c1c" stroke-width="0.92" />
<path d="M629.4 17.4 L631.4 17.4 L631.2 22.8 L630 22.8 Z" fill="#fff" stroke="#1c1c1c" stroke-width="1.03" />
<line x1="628.2" y1="17.2" x2="632.0" y2="17.2" stroke="#1c1c1c" stroke-width="1.50" />
<line x1="284.6" y1="269.4" x2="287.3" y2="285.2" stroke="#1c1c1c" stroke-width="1.03" />
<path d="M279.8 288.6 L280.4 296 L287 299.6 L293.6 300.4 L296 286 L292 283 L284 283 C281.4 283.4 279.8 285.6 279.8 288.6 Z" fill="#fff" stroke="#1c1c1c" stroke-width="1.26" />
<path d="M279.8 288.6 C281.6 291.8 286 292.6 289 291.6 L294 289" fill="none" stroke="#1c1c1c" stroke-width="1.03" />
<ellipse cx="287.3" cy="286.8" rx="3.7" ry="2.1" fill="none" stroke="#1c1c1c" stroke-width="1.15"/>
<path d="M291 301 L293.6 319.6 C295 324 298 327.6 301.6 329.6 C310 331.6 326 331.6 334 329.2 C340 327.2 345 323.4 347.2 319 L348.6 300 Z" fill="#fff" stroke="#1c1c1c" stroke-width="1.26" />
<path d="M297.8 308 L299.4 327.4 M302.8 309.8 L303.6 329.8" fill="none" stroke="#1c1c1c" stroke-width="1.03" />
<path d="M336.4 312 L336.4 316.4 L342.4 319.6 L349.6 318.8 L352 321.6 L360 319.6 C361.6 318.6 362.2 316 362 313.6 C361.8 310.4 359 307.6 355.6 307.2 L349.4 306.6 L342 309.6 Z" fill="#fff" stroke="#1c1c1c" stroke-width="1.26" />
<path d="M336.4 312 L342.6 315 L349.8 314.2 L352.4 317 L360.6 314.8 C361.6 314.2 362 313.4 362 312.4" fill="none" stroke="#1c1c1c" stroke-width="1.03" />
<ellipse cx="353.3" cy="311.6" rx="3.5" ry="2.1" fill="none" stroke="#1c1c1c" stroke-width="1.15"/>
<path d="M340 309.8 L340 303 M345 308 L345 302.6" fill="none" stroke="#1c1c1c" stroke-width="1.03" />
<path d="M308 319.8 L309.6 333.2 C310 335.4 316 335.4 316.4 333.2 L315 319.8 Z" fill="#fff" stroke="#1c1c1c" stroke-width="1.15" />
<ellipse cx="313.0" cy="333.4" rx="3.4" ry="1.6" fill="none" stroke="#1c1c1c" stroke-width="1.03"/>
<path d="M305.8 321 L306 317 C308 314.6 314.6 314.6 316.6 316.6 L317 320.6" fill="none" stroke="#1c1c1c" stroke-width="1.15" />
<path d="M329.6 323 L331.2 336.8 C331.6 339 337.6 339 338 336.8 L336.6 323 Z" fill="#fff" stroke="#1c1c1c" stroke-width="1.15" />
<ellipse cx="334.6" cy="337.0" rx="3.4" ry="1.6" fill="none" stroke="#1c1c1c" stroke-width="1.03"/>
<ellipse cx="341.4" cy="276.6" rx="2.9" ry="2.6" fill="#fff" stroke="#1c1c1c" stroke-width="1.15"/>
<path d="M338.6 277.4 L339.6 281.6 M344.3 276.6 L345.6 281" fill="none" stroke="#1c1c1c" stroke-width="1.03" />
<ellipse cx="319.8" cy="291.4" rx="29.4" ry="15.6" fill="#fff" stroke="#1c1c1c" stroke-width="1.26" transform="rotate(-4.0 319.8 291.4)"/>
<path d="M290.8 297 C296 312.6 334 313.6 348.8 296.4" fill="none" stroke="#1c1c1c" stroke-width="1.03" />
<line x1="345.6" y1="259.2" x2="353.4" y2="310.6" stroke="#1c1c1c" stroke-width="1.03" />
<g transform="rotate(-5 282.6 259.0)">
<ellipse cx="282.6" cy="259.6" rx="8.4" ry="3.6" fill="#fff" stroke="#1c1c1c" stroke-width="1.49"/>
<ellipse cx="282.6" cy="258.0" rx="8.4" ry="3.6" fill="#fff" stroke="#1c1c1c" stroke-width="1.49"/>
<path d="M276.8 251.4 L276.8 258.4 L288.4 258.4 L288.4 251.4 Z" fill="#fff" stroke="#1c1c1c" stroke-width="1.26" />
<ellipse cx="282.6" cy="251.8" rx="5.8" ry="2.6" fill="#fff" stroke="#1c1c1c" stroke-width="1.26"/>
<line x1="280.4" y1="254.2" x2="280.4" y2="259.6" stroke="#1c1c1c" stroke-width="1.03" />
<line x1="285.2" y1="254.2" x2="285.2" y2="259.6" stroke="#1c1c1c" stroke-width="1.03" />
<path d="M279.2 262.8 L279.6 269.0 L286.2 269.0 L286.0 262.8" fill="#fff" stroke="#1c1c1c" stroke-width="1.26" />
</g>
<g transform="rotate(-5 343.6 249.6)">
<ellipse cx="343.6" cy="250.2" rx="8.4" ry="3.6" fill="#fff" stroke="#1c1c1c" stroke-width="1.49"/>
<ellipse cx="343.6" cy="248.6" rx="8.4" ry="3.6" fill="#fff" stroke="#1c1c1c" stroke-width="1.49"/>
<path d="M337.8 242.0 L337.8 249.0 L349.4 249.0 L349.4 242.0 Z" fill="#fff" stroke="#1c1c1c" stroke-width="1.26" />
<ellipse cx="343.6" cy="242.4" rx="5.8" ry="2.6" fill="#fff" stroke="#1c1c1c" stroke-width="1.26"/>
<line x1="341.4" y1="244.8" x2="341.4" y2="250.2" stroke="#1c1c1c" stroke-width="1.03" />
<line x1="346.2" y1="244.8" x2="346.2" y2="250.2" stroke="#1c1c1c" stroke-width="1.03" />
<path d="M340.2 253.4 L340.6 259.6 L347.2 259.6 L347.0 253.4" fill="#fff" stroke="#1c1c1c" stroke-width="1.26" />
</g>
<path d="M304.1 352.9 C304.5 356.0 306.4 366.4 306.6 371.6 C306.8 376.8 306.3 379.8 305.4 384.0 C304.5 388.2 304.3 390.7 301.0 396.6 C297.7 402.5 291.7 412.5 285.4 419.5 C279.1 426.5 270.0 433.2 263.4 438.6 C256.8 444.0 251.0 448.0 246.0 452.0 C241.0 456.0 235.5 461.0 233.4 462.8" fill="none" stroke="#1c1c1c" stroke-width="8.40" stroke-linecap="butt"/>
<path d="M304.1 352.9 C304.5 356.0 306.4 366.4 306.6 371.6 C306.8 376.8 306.3 379.8 305.4 384.0 C304.5 388.2 304.3 390.7 301.0 396.6 C297.7 402.5 291.7 412.5 285.4 419.5 C279.1 426.5 270.0 433.2 263.4 438.6 C256.8 444.0 251.0 448.0 246.0 452.0 C241.0 456.0 235.5 461.0 233.4 462.8" fill="none" stroke="#fff" stroke-width="5.90" stroke-linecap="butt"/>
<ellipse cx="304.1" cy="352.9" rx="1.6" ry="3.6" fill="#fff" stroke="#1c1c1c" stroke-width="1.44" transform="rotate(82.4 304.1 352.9)"/>
<ellipse cx="233.4" cy="462.8" rx="1.6" ry="3.6" fill="#fff" stroke="#1c1c1c" stroke-width="1.44" transform="rotate(-40.6 233.4 462.8)"/>
<path d="M344.0 350.8 C344.5 354.3 346.5 366.2 346.8 371.6 C347.1 377.0 346.7 379.2 346.0 383.0 C345.3 386.8 345.4 389.1 342.6 394.5 C339.8 399.9 335.4 408.4 329.0 415.3 C322.6 422.2 310.9 430.5 304.1 436.1 C297.3 441.7 293.2 445.1 288.0 449.0 C282.8 452.9 275.3 458.0 272.8 459.8" fill="none" stroke="#1c1c1c" stroke-width="8.40" stroke-linecap="butt"/>
<path d="M344.0 350.8 C344.5 354.3 346.5 366.2 346.8 371.6 C347.1 377.0 346.7 379.2 346.0 383.0 C345.3 386.8 345.4 389.1 342.6 394.5 C339.8 399.9 335.4 408.4 329.0 415.3 C322.6 422.2 310.9 430.5 304.1 436.1 C297.3 441.7 293.2 445.1 288.0 449.0 C282.8 452.9 275.3 458.0 272.8 459.8" fill="none" stroke="#fff" stroke-width="5.90" stroke-linecap="butt"/>
<ellipse cx="344.0" cy="350.8" rx="1.6" ry="3.6" fill="#fff" stroke="#1c1c1c" stroke-width="1.44" transform="rotate(82.3 344.0 350.8)"/>
<ellipse cx="272.8" cy="459.8" rx="1.6" ry="3.6" fill="#fff" stroke="#1c1c1c" stroke-width="1.44" transform="rotate(-35.4 272.8 459.8)"/>
<path d="M180.4 380.8 C178.4 383.4 171.4 391.5 168.6 396.6 C165.8 401.7 164.3 407.5 163.6 411.5 C162.9 415.5 163.7 417.5 164.4 420.5 C165.1 423.5 166.3 425.4 167.8 429.6 C169.3 433.9 172.3 440.6 173.6 446.0 C174.9 451.4 175.6 456.6 175.8 462.0 C176.0 467.4 175.1 475.5 175.0 478.2" fill="none" stroke="#1c1c1c" stroke-width="8.60" stroke-linecap="butt"/>
<path d="M180.4 380.8 C178.4 383.4 171.4 391.5 168.6 396.6 C165.8 401.7 164.3 407.5 163.6 411.5 C162.9 415.5 163.7 417.5 164.4 420.5 C165.1 423.5 166.3 425.4 167.8 429.6 C169.3 433.9 172.3 440.6 173.6 446.0 C174.9 451.4 175.6 456.6 175.8 462.0 C176.0 467.4 175.1 475.5 175.0 478.2" fill="none" stroke="#fff" stroke-width="6.10" stroke-linecap="butt"/>
<ellipse cx="180.4" cy="380.8" rx="1.6" ry="3.7" fill="#fff" stroke="#1c1c1c" stroke-width="1.44" transform="rotate(126.8 180.4 380.8)"/>
<ellipse cx="175.0" cy="478.2" rx="1.6" ry="3.7" fill="#fff" stroke="#1c1c1c" stroke-width="1.44" transform="rotate(-87.2 175.0 478.2)"/>
<line x1="171.6" y1="522.8" x2="196.4" y2="502.4" stroke="#1c1c1c" stroke-width="5.4" stroke-linecap="round"/>
<line x1="183.0" y1="513.4" x2="173.6" y2="503.0" stroke="#1c1c1c" stroke-width="5.2" stroke-linecap="round"/>
<line x1="171.6" y1="522.8" x2="196.4" y2="502.4" stroke="#fff" stroke-width="2.8" stroke-linecap="round"/>
<line x1="183.0" y1="513.4" x2="173.6" y2="503.0" stroke="#fff" stroke-width="2.6" stroke-linecap="round"/>
<line x1="173.4" y1="518.4" x2="176.2" y2="521.8" stroke="#1c1c1c" stroke-width="1.9" stroke-linecap="butt"/>
<line x1="191.8" y1="503.4" x2="194.6" y2="506.8" stroke="#1c1c1c" stroke-width="1.9" stroke-linecap="butt"/>
<line x1="175.6" y1="508.4" x2="178.7" y2="505.5" stroke="#1c1c1c" stroke-width="1.9" stroke-linecap="butt"/>
<g transform="translate(690.6 129.4) rotate(0.0)" fill="none" stroke="#1c1c1c" stroke-linecap="round">
<ellipse cx="-2.2" cy="-2.3" rx="3.5" ry="1.8" transform="rotate(64 -2.2 -2.3)" stroke-width="1.7"/>
<ellipse cx="2.1" cy="4.1" rx="2.1" ry="1.4" transform="rotate(50 2.1 4.1)" stroke-width="1.9"/>
<path d="M-3.4 -5.4 C-2 -5 2 -4.6 5.1 -4.4" stroke-width="1.9"/>
</g>
<g transform="translate(638.2 186.2) rotate(0.0)" fill="none" stroke="#1c1c1c" stroke-linecap="round">
<ellipse cx="-2.2" cy="-2.3" rx="3.5" ry="1.8" transform="rotate(64 -2.2 -2.3)" stroke-width="1.7"/>
<ellipse cx="2.1" cy="4.1" rx="2.1" ry="1.4" transform="rotate(50 2.1 4.1)" stroke-width="1.9"/>
<path d="M-3.4 -5.4 C-2 -5 2 -4.6 5.1 -4.4" stroke-width="1.9"/>
</g>
<g transform="translate(576.6 191.4) rotate(0.0)" fill="none" stroke="#1c1c1c" stroke-linecap="round">
<ellipse cx="-2.2" cy="-2.3" rx="3.5" ry="1.8" transform="rotate(64 -2.2 -2.3)" stroke-width="1.7"/>
<ellipse cx="2.1" cy="4.1" rx="2.1" ry="1.4" transform="rotate(50 2.1 4.1)" stroke-width="1.9"/>
<path d="M-3.4 -5.4 C-2 -5 2 -4.6 5.1 -4.4" stroke-width="1.9"/>
</g>
<g transform="translate(361.0 272.0) rotate(50.0)" fill="none" stroke="#1c1c1c" stroke-linecap="round">
<ellipse cx="-3.3" cy="1.7" rx="3.7" ry="2.0" stroke-width="1.8"/>
<path d="M-3.4 -0.3 L-4.8 -4.2" stroke-width="1.9"/>
<ellipse cx="3.8" cy="-1.1" rx="3.9" ry="0.9" transform="rotate(-25 3.8 -1.1)" stroke-width="1.7"/>
</g>
<g transform="translate(322.0 347.6) rotate(0.0)" fill="none" stroke="#1c1c1c" stroke-linecap="round">
<ellipse cx="-3.3" cy="1.7" rx="3.7" ry="2.0" stroke-width="1.8"/>
<path d="M-3.4 -0.3 L-4.8 -4.2" stroke-width="1.9"/>
<ellipse cx="3.8" cy="-1.1" rx="3.9" ry="0.9" transform="rotate(-25 3.8 -1.1)" stroke-width="1.7"/>
</g>
<g transform="translate(355.0 339.8) rotate(0.0)" fill="none" stroke="#1c1c1c" stroke-linecap="round">
<ellipse cx="-3.3" cy="1.7" rx="3.7" ry="2.0" stroke-width="1.8"/>
<path d="M-3.4 -0.3 L-4.8 -4.2" stroke-width="1.9"/>
<ellipse cx="3.8" cy="-1.1" rx="3.9" ry="0.9" transform="rotate(-25 3.8 -1.1)" stroke-width="1.7"/>
</g>
<g transform="translate(193.8 376.0) rotate(50.0)" fill="none" stroke="#1c1c1c" stroke-linecap="round">
<ellipse cx="-3.3" cy="1.7" rx="3.7" ry="2.0" stroke-width="1.8"/>
<path d="M-3.4 -0.3 L-4.8 -4.2" stroke-width="1.9"/>
<ellipse cx="3.8" cy="-1.1" rx="3.9" ry="0.9" transform="rotate(-25 3.8 -1.1)" stroke-width="1.7"/>
</g>
<g transform="translate(177.6 493.5) rotate(50.0)" fill="none" stroke="#1c1c1c" stroke-linecap="round">
<ellipse cx="-3.3" cy="1.7" rx="3.7" ry="2.0" stroke-width="1.8"/>
<path d="M-3.4 -0.3 L-4.8 -4.2" stroke-width="1.9"/>
<ellipse cx="3.8" cy="-1.1" rx="3.9" ry="0.9" transform="rotate(-25 3.8 -1.1)" stroke-width="1.7"/>
</g>
<g transform="translate(228.2 473.6) rotate(50.0)" fill="none" stroke="#1c1c1c" stroke-linecap="round">
<ellipse cx="-3.3" cy="1.7" rx="3.7" ry="2.0" stroke-width="1.8"/>
<path d="M-3.4 -0.3 L-4.8 -4.2" stroke-width="1.9"/>
<ellipse cx="3.8" cy="-1.1" rx="3.9" ry="0.9" transform="rotate(-25 3.8 -1.1)" stroke-width="1.7"/>
</g>
<g transform="translate(265.4 469.6) rotate(50.0)" fill="none" stroke="#1c1c1c" stroke-linecap="round">
<ellipse cx="-3.3" cy="1.7" rx="3.7" ry="2.0" stroke-width="1.8"/>
<path d="M-3.4 -0.3 L-4.8 -4.2" stroke-width="1.9"/>
<ellipse cx="3.8" cy="-1.1" rx="3.9" ry="0.9" transform="rotate(-25 3.8 -1.1)" stroke-width="1.7"/>
</g>
<path d="M142.8 578.2 L145.7 565.6 L149.8 569.9 L163 563.2 L166.3 571.5 L153.9 577.3 L154.8 581.6 Z" fill="#fff" stroke="#1c1c1c" stroke-width="1.15" />
<path d="M145.2 576.4 L147.4 568.8 L150.4 572 L163.6 565.4" fill="none" stroke="#1c1c1c" stroke-width="0.92" />
<text transform="translate(118.8 594.2) rotate(-23) scale(0.86 1)" font-size="17" style="stroke-width:0.3px">FR.</text>
<line x1="632.8" y1="21.2" x2="643.6" y2="21.2" stroke="#1c1c1c" stroke-width="1.15" />
<line x1="609.4" y1="29.4" x2="629.4" y2="31.8" stroke="#1c1c1c" stroke-width="1.15" />
<line x1="589.4" y1="49.8" x2="610.4" y2="52.8" stroke="#1c1c1c" stroke-width="1.15" />
<line x1="657.4" y1="70.6" x2="688.4" y2="74.0" stroke="#1c1c1c" stroke-width="1.15" />
<line x1="505.2" y1="72.6" x2="531.8" y2="104.6" stroke="#1c1c1c" stroke-width="1.15" />
<line x1="408.4" y1="135.0" x2="457.2" y2="121.8" stroke="#1c1c1c" stroke-width="1.15" />
<line x1="595.8" y1="144.8" x2="605.6" y2="156.4" stroke="#1c1c1c" stroke-width="1.15" />
<line x1="744.4" y1="136.2" x2="758.0" y2="136.2" stroke="#1c1c1c" stroke-width="1.15" />
<line x1="695.4" y1="130.8" x2="704.4" y2="136.6" stroke="#1c1c1c" stroke-width="1.15" />
<line x1="676.4" y1="166.4" x2="685.4" y2="173.0" stroke="#1c1c1c" stroke-width="1.15" />
<line x1="642.4" y1="187.2" x2="650.6" y2="193.8" stroke="#1c1c1c" stroke-width="1.15" />
<line x1="580.8" y1="191.8" x2="594.0" y2="193.8" stroke="#1c1c1c" stroke-width="1.15" />
<line x1="781.6" y1="186.0" x2="795.4" y2="186.0" stroke="#1c1c1c" stroke-width="1.15" />
<line x1="788.6" y1="214.8" x2="797.2" y2="206.6" stroke="#1c1c1c" stroke-width="1.15" />
<line x1="777.4" y1="246.8" x2="783.2" y2="255.0" stroke="#1c1c1c" stroke-width="1.15" />
<line x1="816.4" y1="244.6" x2="830.4" y2="244.6" stroke="#1c1c1c" stroke-width="1.15" />
<line x1="821.8" y1="270.4" x2="836.2" y2="270.4" stroke="#1c1c1c" stroke-width="1.15" />
<line x1="820.6" y1="289.8" x2="834.6" y2="289.8" stroke="#1c1c1c" stroke-width="1.15" />
<line x1="762.8" y1="371.0" x2="795.0" y2="376.0" stroke="#1c1c1c" stroke-width="1.15" />
<line x1="606.2" y1="478.4" x2="638.0" y2="478.4" stroke="#1c1c1c" stroke-width="1.15" />
<line x1="620.2" y1="527.6" x2="652.0" y2="527.6" stroke="#1c1c1c" stroke-width="1.15" />
<line x1="769.8" y1="443.8" x2="801.4" y2="443.8" stroke="#1c1c1c" stroke-width="1.15" />
<line x1="792.6" y1="498.0" x2="824.8" y2="498.0" stroke="#1c1c1c" stroke-width="1.15" />
<line x1="397.8" y1="195.6" x2="411.0" y2="200.4" stroke="#1c1c1c" stroke-width="1.15" />
<line x1="425.8" y1="227.8" x2="436.4" y2="227.8" stroke="#1c1c1c" stroke-width="1.15" />
<line x1="420.0" y1="251.8" x2="430.8" y2="251.8" stroke="#1c1c1c" stroke-width="1.15" />
<line x1="421.2" y1="272.8" x2="434.8" y2="272.8" stroke="#1c1c1c" stroke-width="1.15" />
<line x1="413.2" y1="299.8" x2="424.0" y2="299.8" stroke="#1c1c1c" stroke-width="1.15" />
<line x1="406.6" y1="323.6" x2="418.2" y2="323.6" stroke="#1c1c1c" stroke-width="1.15" />
<line x1="408.6" y1="345.2" x2="420.6" y2="345.2" stroke="#1c1c1c" stroke-width="1.15" />
<line x1="250.0" y1="261.4" x2="270.4" y2="259.4" stroke="#1c1c1c" stroke-width="1.15" />
<line x1="322.8" y1="237.8" x2="335.8" y2="242.4" stroke="#1c1c1c" stroke-width="1.15" />
<line x1="367.8" y1="278.0" x2="374.2" y2="287.4" stroke="#1c1c1c" stroke-width="1.15" />
<line x1="255.0" y1="330.6" x2="289.0" y2="316.4" stroke="#1c1c1c" stroke-width="1.15" />
<line x1="284.0" y1="344.8" x2="313.8" y2="348.0" stroke="#1c1c1c" stroke-width="1.15" />
<line x1="361.2" y1="344.0" x2="371.2" y2="360.6" stroke="#1c1c1c" stroke-width="1.15" />
<line x1="178.8" y1="355.0" x2="190.0" y2="372.8" stroke="#1c1c1c" stroke-width="1.15" />
<line x1="141.6" y1="415.4" x2="160.4" y2="424.8" stroke="#1c1c1c" stroke-width="1.15" />
<line x1="244.8" y1="422.6" x2="262.4" y2="434.2" stroke="#1c1c1c" stroke-width="1.15" />
<line x1="317.6" y1="432.0" x2="345.8" y2="448.6" stroke="#1c1c1c" stroke-width="1.15" />
<line x1="151.0" y1="482.8" x2="169.8" y2="491.0" stroke="#1c1c1c" stroke-width="1.15" />
<line x1="230.2" y1="478.6" x2="238.4" y2="493.2" stroke="#1c1c1c" stroke-width="1.15" />
<line x1="266.6" y1="475.4" x2="274.8" y2="491.0" stroke="#1c1c1c" stroke-width="1.15" />
<line x1="187.4" y1="517.0" x2="201.0" y2="528.4" stroke="#1c1c1c" stroke-width="1.15" />
<text transform="translate(654.4 29.2) scale(0.740 1)" text-anchor="middle" font-size="24.0">11</text>
<text transform="translate(599.8 34.3) scale(0.740 1)" text-anchor="middle" font-size="24.0">12</text>
<text transform="translate(582.5 59.1) scale(0.740 1)" text-anchor="middle" font-size="24.0">6</text>
<text transform="translate(695.5 82.7) scale(0.740 1)" text-anchor="middle" font-size="24.0">3</text>
<text transform="translate(495.9 69.7) scale(0.740 1)" text-anchor="middle" font-size="24.0">18</text>
<text transform="translate(402.1 147.5) scale(0.740 1)" text-anchor="middle" font-size="24.0">6</text>
<text transform="translate(591.6 146.1) scale(0.740 1)" text-anchor="middle" font-size="24.0">4</text>
<text transform="translate(764.6 146.1) scale(0.740 1)" text-anchor="middle" font-size="24.0">2</text>
<text transform="translate(713.4 152.5) scale(0.740 1)" text-anchor="middle" font-size="24.0">21</text>
<text transform="translate(694.8 188.7) scale(0.740 1)" text-anchor="middle" font-size="24.0">16</text>
<text transform="translate(659.3 209.9) scale(0.740 1)" text-anchor="middle" font-size="24.0">21</text>
<text transform="translate(603.8 209.9) scale(0.740 1)" text-anchor="middle" font-size="24.0">21</text>
<text transform="translate(805.4 194.9) scale(0.740 1)" text-anchor="middle" font-size="24.0">10</text>
<text transform="translate(802.9 215.3) scale(0.740 1)" text-anchor="middle" font-size="24.0">9</text>
<text transform="translate(789.2 268.1) scale(0.740 1)" text-anchor="middle" font-size="24.0">8</text>
<text transform="translate(840.6 253.7) scale(0.740 1)" text-anchor="middle" font-size="24.0">10</text>
<text transform="translate(842.8 279.5) scale(0.740 1)" text-anchor="middle" font-size="24.0">9</text>
<text transform="translate(839.9 298.5) scale(0.740 1)" text-anchor="middle" font-size="24.0">8</text>
<text transform="translate(808.1 385.5) scale(0.740 1)" text-anchor="middle" font-size="24.0">1</text>
<text transform="translate(645.0 487.5) scale(0.740 1)" text-anchor="middle" font-size="24.0">7</text>
<text transform="translate(659.0 537.1) scale(0.740 1)" text-anchor="middle" font-size="24.0">7</text>
<text transform="translate(808.4 453.9) scale(0.740 1)" text-anchor="middle" font-size="24.0">7</text>
<text transform="translate(831.8 508.1) scale(0.740 1)" text-anchor="middle" font-size="24.0">7</text>
<text transform="translate(382.7 200.3) scale(0.740 1)" text-anchor="middle" font-size="24.0">16</text>
<text transform="translate(416.7 237.5) scale(0.740 1)" text-anchor="middle" font-size="24.0">10</text>
<text transform="translate(415.4 261.1) scale(0.740 1)" text-anchor="middle" font-size="24.0">9</text>
<text transform="translate(416.0 282.3) scale(0.740 1)" text-anchor="middle" font-size="24.0">8</text>
<text transform="translate(402.8 309.5) scale(0.740 1)" text-anchor="middle" font-size="24.0">10</text>
<text transform="translate(397.9 331.9) scale(0.740 1)" text-anchor="middle" font-size="24.0">9</text>
<text transform="translate(404.0 355.1) scale(0.740 1)" text-anchor="middle" font-size="24.0">8</text>
<text transform="translate(237.2 270.9) scale(0.740 1)" text-anchor="middle" font-size="24.0">13</text>
<text transform="translate(315.2 245.7) scale(0.740 1)" text-anchor="middle" font-size="24.0">13</text>
<text transform="translate(377.4 303.7) scale(0.740 1)" text-anchor="middle" font-size="24.0">21</text>
<text transform="translate(248.7 341.9) scale(0.740 1)" text-anchor="middle" font-size="24.0">5</text>
<text transform="translate(275.6 351.9) scale(0.740 1)" text-anchor="middle" font-size="24.0">17</text>
<text transform="translate(375.2 379.3) scale(0.740 1)" text-anchor="middle" font-size="24.0">17</text>
<text transform="translate(174.3 352.3) scale(0.740 1)" text-anchor="middle" font-size="24.0">17</text>
<text transform="translate(132.2 422.9) scale(0.740 1)" text-anchor="middle" font-size="24.0">20</text>
<text transform="translate(236.7 426.1) scale(0.740 1)" text-anchor="middle" font-size="24.0">15</text>
<text transform="translate(353.9 459.5) scale(0.740 1)" text-anchor="middle" font-size="24.0">14</text>
<text transform="translate(140.5 490.5) scale(0.740 1)" text-anchor="middle" font-size="24.0">21</text>
<text transform="translate(246.6 511.1) scale(0.740 1)" text-anchor="middle" font-size="24.0">17</text>
<text transform="translate(278.4 509.1) scale(0.740 1)" text-anchor="middle" font-size="24.0">21</text>
<text transform="translate(214.8 543.5) scale(0.740 1)" text-anchor="middle" font-size="24.0">19</text>
</svg>
</body></html>
